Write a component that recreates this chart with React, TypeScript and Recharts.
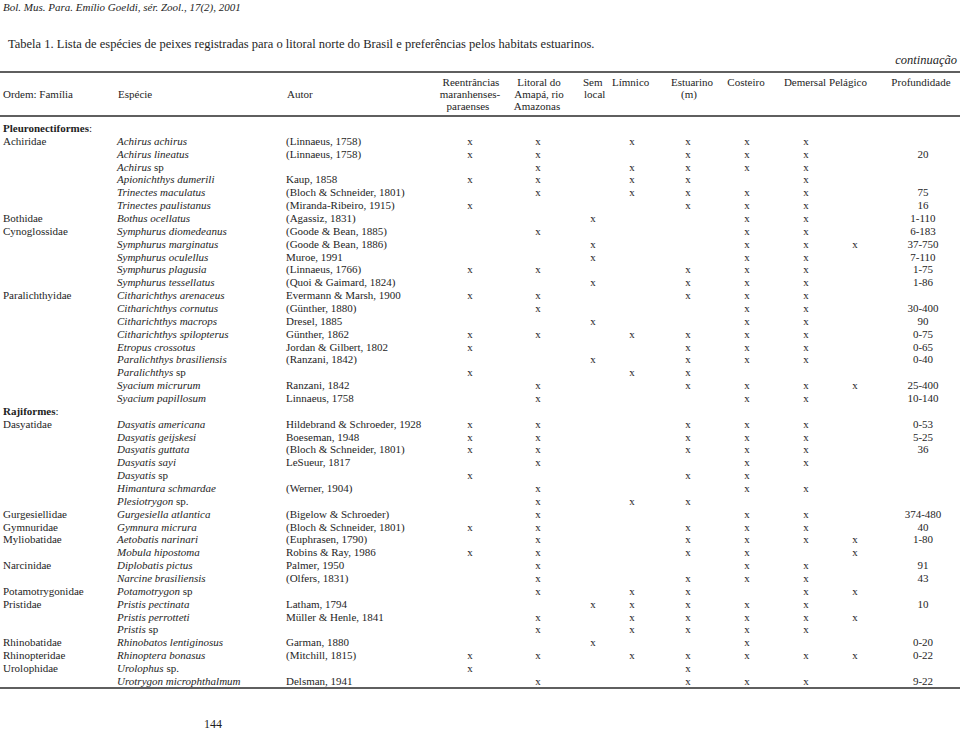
import { ScatterChart, Scatter, XAxis, YAxis, ReferenceLine } from 'recharts';

// table content
const orders = ['Pleuronectiformes', 'Rajiformes'];
const speciesPerOrder = [21, 21];

const families = [
  'Achiridae', '', '', '', '', '', 'Bothidae', 'Cynoglossidae', '', '', '', '',
  'Paralichthyidae', '', '', '', '', '', '', '', '',
  'Dasyatidae', '', '', '', '', '', '', 'Gurgesiellidae', 'Gymnuridae', 'Myliobatidae', '',
  'Narcinidae', '', 'Potamotrygonidae', 'Pristidae', '', '', 'Rhinobatidae', 'Rhinopteridae',
  'Urolophidae', '',
];

const species = [
  'Achirus achirus', 'Achirus lineatus', 'Achirus sp', 'Apionichthys dumerili',
  'Trinectes maculatus', 'Trinectes paulistanus', 'Bothus ocellatus', 'Symphurus diomedeanus',
  'Symphurus marginatus', 'Symphurus oculellus', 'Symphurus plagusia', 'Symphurus tessellatus',
  'Citharichthys arenaceus', 'Citharichthys cornutus', 'Citharichthys macrops',
  'Citharichthys spilopterus', 'Etropus crossotus', 'Paralichthys brasiliensis', 'Paralichthys sp',
  'Syacium micrurum', 'Syacium papillosum',
  'Dasyatis americana', 'Dasyatis geijskesi', 'Dasyatis guttata', 'Dasyatis sayi', 'Dasyatis sp',
  'Himantura schmardae', 'Plesiotrygon sp.', 'Gurgesiella atlantica', 'Gymnura micrura',
  'Aetobatis narinari', 'Mobula hipostoma', 'Diplobatis pictus', 'Narcine brasiliensis',
  'Potamotrygon sp', 'Pristis pectinata', 'Pristis perrotteti', 'Pristis sp',
  'Rhinobatos lentiginosus', 'Rhinoptera bonasus', 'Urolophus sp.', 'Urotrygon microphthalmum',
];

const authors = [
  '(Linnaeus, 1758)', '(Linnaeus, 1758)', '', 'Kaup, 1858', '(Bloch & Schneider, 1801)',
  '(Miranda-Ribeiro, 1915)', '(Agassiz, 1831)', '(Goode & Bean, 1885)', '(Goode & Bean, 1886)',
  'Muroe, 1991', '(Linnaeus, 1766)', '(Quoi & Gaimard, 1824)', 'Evermann & Marsh, 1900',
  '(Günther, 1880)', 'Dresel, 1885', 'Günther, 1862', 'Jordan & Gilbert, 1802', '(Ranzani, 1842)',
  '', 'Ranzani, 1842', 'Linnaeus, 1758',
  'Hildebrand & Schroeder, 1928', 'Boeseman, 1948', '(Bloch & Schneider, 1801)', 'LeSueur, 1817',
  '', '(Werner, 1904)', '', '(Bigelow & Schroeder)', '(Bloch & Schneider, 1801)',
  '(Euphrasen, 1790)', 'Robins & Ray, 1986', 'Palmer, 1950', '(Olfers, 1831)', '',
  'Latham, 1794', 'Müller & Henle, 1841', '', 'Garman, 1880', '(Mitchill, 1815)', '', 'Delsman, 1941',
];

// habitat columns, in order; one character per column in `presence`
const habitats = ['Reentrâncias', 'Litoral do Amapá', 'Sem local', 'Límnico', 'Estuarino', 'Costeiro', 'Demersal', 'Pelágico'];
const presence = [
  'xx.xxxx.', 'xx..xxx.', '.x.xxxx.', 'xx.xx.x.', '.x.xxxx.', 'x...xxx.', '..x..xx.',
  '.x...xx.', '..x..xxx', '..x..xx.', 'xx..xxx.', '..x.xxx.', 'xx..xxx.', '.x...xx.',
  '..x..xx.', 'xx.xxxx.', 'x...xxx.', '..x.xxx.', 'x..xx...', '.x..xxxx', '.x...xx.',
  'xx..xxx.', 'xx..xxx.', 'xx..xxx.', '.x...xx.', 'x...xx..', '.x...xx.', '.x.xx...',
  '.x...xx.', 'xx..xxx.', '.x..xxxx', 'xx..xx.x', '.x...xx.', '.x..xxx.', '.x.xx.xx',
  '..xxxxx.', '.x.xxxxx', '.x.xxxx.', '..x..x..', 'xx.xxxxx', 'x...x...', '.x..xxx.',
];

const depths = [
  '', '20', '', '', '75', '16', '1-110', '6-183', '37-750', '7-110', '1-75', '1-86', '',
  '30-400', '90', '0-75', '0-65', '0-40', '', '25-400', '10-140',
  '0-53', '5-25', '36', '', '', '', '', '374-480', '40', '1-80', '', '91', '43', '',
  '10', '', '', '0-20', '0-22', '', '9-22',
];

// layout
const FONT = "'Liberation Serif', 'Times New Roman', serif";
const INK = '#1e1e1e';
const COL_X = { family: 3, species: 117, author: 286, depth: 923 };
const HABITAT_X = [470, 538, 593, 632, 688, 747, 806, 855];

const orderRows: number[] = [];
const speciesRows: number[] = [];
let r = 0;
orders.forEach((_, k) => {
  orderRows.push(r++);
  for (let i = 0; i < speciesPerOrder[k]; i++) speciesRows.push(r++);
});
const lastRow = r - 1;

const orderData = orders.map((o, k) => ({ x: COL_X.family, row: orderRows[k], label: o }));
const familyData = families
  .map((f, i) => ({ x: COL_X.family, row: speciesRows[i], label: f }))
  .filter((d) => d.label);
const speciesData = species.map((s, i) => ({ x: COL_X.species, row: speciesRows[i], label: s }));
const authorData = authors
  .map((a, i) => ({ x: COL_X.author, row: speciesRows[i], label: a }))
  .filter((d) => d.label);
const depthData = depths
  .map((d, i) => ({ x: COL_X.depth, row: speciesRows[i], label: d }))
  .filter((d) => d.label);
const markData = presence.flatMap((p, i) =>
  p.split('').flatMap((c, j) => (c === 'x' ? [{ x: HABITAT_X[j], row: speciesRows[i], label: 'x', habitat: habitats[j] }] : []))
);

const textShape = (anchor: 'start' | 'middle', extra: any = {}) => (props: any) => (
  <text x={props.cx} y={props.cy} dy="0.35em" textAnchor={anchor} fontFamily={FONT} fontSize={11} fill={INK} {...extra}>
    {props.payload.label}
  </text>
);

const SpeciesShape = (props: any) => {
  const name: string = props.payload.label;
  const m = name.match(/^(\S+) (sp\.?)$/);
  return (
    <text x={props.cx} y={props.cy} dy="0.35em" fontFamily={FONT} fontSize={11} fill={INK}>
      {m ? (
        <>
          <tspan fontStyle="italic">{m[1]}</tspan>
          <tspan> {m[2]}</tspan>
        </>
      ) : (
        <tspan fontStyle="italic">{name}</tspan>
      )}
    </text>
  );
};

const OrderShape = (props: any) => (
  <text x={props.cx} y={props.cy} dy="0.35em" fontFamily={FONT} fontSize={11} fill={INK}>
    <tspan fontWeight="bold">{props.payload.label}</tspan>
    <tspan>:</tspan>
  </text>
);

type LabelProps = { x: number; y: number; text: string; align?: 'left' | 'center' | 'right'; size?: number; italic?: boolean };

function Label({ x, y, text, align = 'left', size = 11, italic = false }: LabelProps) {
  const shift = align === 'center' ? 'translateX(-50%)' : align === 'right' ? 'translateX(-100%)' : 'none';
  return (
    <div
      style={{
        position: 'absolute',
        left: x,
        top: y - size * 0.62,
        transform: shift,
        whiteSpace: 'nowrap',
        fontFamily: FONT,
        fontSize: size,
        lineHeight: 1,
        fontStyle: italic ? 'italic' : 'normal',
        color: INK,
      }}
    >
      {text}
    </div>
  );
}

const headerLabels: LabelProps[] = [
  { x: 3, y: 96, text: 'Ordem: Família' },
  { x: 118, y: 96, text: 'Espécie' },
  { x: 287, y: 96, text: 'Autor' },
  { x: 471, y: 84, text: 'Reentrâncias', align: 'center' },
  { x: 470, y: 96, text: 'maranhenses-', align: 'center' },
  { x: 468, y: 108, text: 'paraenses', align: 'center' },
  { x: 539, y: 84, text: 'Litoral do', align: 'center' },
  { x: 539, y: 96, text: 'Amapá, rio', align: 'center' },
  { x: 537, y: 108, text: 'Amazonas', align: 'center' },
  { x: 583, y: 84, text: 'Sem' },
  { x: 584, y: 96, text: 'local' },
  { x: 612, y: 84, text: 'Límnico' },
  { x: 692, y: 84, text: 'Estuarino', align: 'center' },
  { x: 689, y: 96, text: '(m)', align: 'center' },
  { x: 746, y: 84, text: 'Costeiro', align: 'center' },
  { x: 805, y: 84, text: 'Demersal', align: 'center' },
  { x: 848, y: 84, text: 'Pelágico', align: 'center' },
  { x: 921, y: 84, text: 'Profundidade', align: 'center' },
];

export default function App() {
  return (
    <div style={{ position: 'absolute', left: 0, top: 0, width: 960, height: 730, background: '#fff', overflow: 'hidden' }}>
      <Label x={3} y={9} size={11} italic text="Bol. Mus. Para. Emílio Goeldi, sér. Zool., 17(2), 2001" />
      <Label
        x={8}
        y={46}
        size={12.5}
        text="Tabela 1. Lista de espécies de peixes registradas para o litoral norte do Brasil e preferências pelos habitats estuarinos."
      />
      <Label x={957} y={62} size={12.5} italic align="right" text="continuação" />
      {headerLabels.map((h) => (
        <Label key={h.text} {...h} />
      ))}
      <Label x={213} y={725} size={12} align="center" text="144" />

      <ScatterChart width={960} height={730} margin={{ top: 128.14, right: 0, bottom: 49, left: 0 }}>
        <XAxis type="number" dataKey="x" domain={[0, 960]} hide />
        <YAxis type="number" dataKey="row" domain={[0, lastRow]} reversed hide />
        <ReferenceLine y={-4.37} stroke="#2a2a2a" strokeWidth={1.4} ifOverflow="visible" />
        <ReferenceLine y={-0.94} stroke="#2a2a2a" strokeWidth={1.4} ifOverflow="visible" />
        <ReferenceLine y={lastRow + 0.55} stroke="#2a2a2a" strokeWidth={1.4} ifOverflow="visible" />
        <Scatter data={orderData} shape={OrderShape} isAnimationActive={false} />
        <Scatter data={familyData} shape={textShape('start')} isAnimationActive={false} />
        <Scatter data={speciesData} shape={SpeciesShape} isAnimationActive={false} />
        <Scatter data={authorData} shape={textShape('start')} isAnimationActive={false} />
        <Scatter data={markData} shape={textShape('middle')} isAnimationActive={false} />
        <Scatter data={depthData} shape={textShape('middle')} isAnimationActive={false} />
      </ScatterChart>
    </div>
  );
}
